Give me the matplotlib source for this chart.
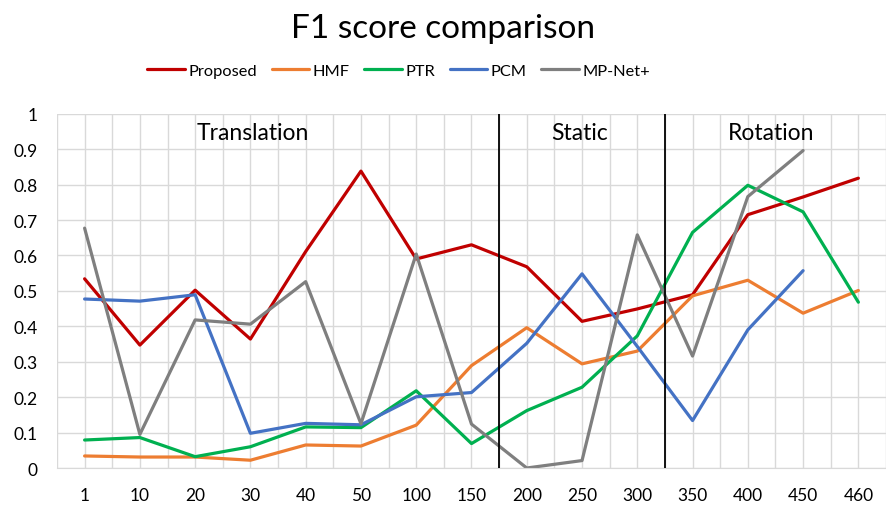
import numpy as np
import matplotlib.pyplot as plt

plt.rcParams['font.family'] = ['Lato', 'DejaVu Sans']

categories = ['1', '10', '20', '30', '40', '50', '100', '150', '200', '250',
              '300', '350', '400', '450', '460']

proposed = [0.534, 0.347, 0.502, 0.364, 0.611, 0.838, 0.590, 0.630, 0.568, 0.414,
            0.449, 0.489, 0.715, 0.765, 0.818]
hmf = [0.034, 0.031, 0.031, 0.022, 0.065, 0.062, 0.121, 0.289, 0.396, 0.294,
       0.330, 0.486, 0.530, 0.437, 0.501]
ptr = [0.079, 0.086, 0.032, 0.060, 0.116, 0.114, 0.218, 0.069, 0.162, 0.228,
       0.373, 0.665, 0.798, 0.723, 0.468]
pcm = [0.477, 0.471, 0.489, 0.098, 0.126, 0.122, 0.201, 0.213, 0.352, 0.548,
       0.343, 0.134, 0.390, 0.557, np.nan]
mpnet = [0.677, 0.095, 0.418, 0.406, 0.526, 0.125, 0.604, 0.124, 0.0, 0.021,
         0.658, 0.316, 0.766, 0.896, np.nan]

series = [('Proposed', proposed, '#C00000'),
          ('HMF', hmf, '#ED7D31'),
          ('PTR', ptr, '#00B050'),
          ('PCM', pcm, '#4472C4'),
          ('MP-Net+', mpnet, '#7F7F7F')]

# phase boundaries (between categories) and labels
boundaries = [7.5, 10.5]
phases = [('Translation', 3.05), ('Static', 8.96), ('Rotation', 12.43)]

fig = plt.figure(figsize=(8.86, 5.06), dpi=100)
ax = fig.add_axes([0.0643, 0.0731, 0.9357, 0.7002])

x = np.arange(len(categories))
for name, vals, col in series:
    ax.plot(x, vals, color=col, lw=2.3, label=name, solid_capstyle='round')

for b in boundaries:
    ax.axvline(b, color='black', lw=1.3, zorder=3)

for label, xp in phases:
    ax.text(xp, 0.946, label, ha='center', va='center', fontsize=16.5)

ax.set_xlim(-0.5, len(categories) - 0.5)
ax.set_ylim(0, 1)
ax.set_xticks(x)
ax.set_xticklabels(categories)
ax.set_xticks(np.arange(-0.5, len(categories), 1.0), minor=True)
ax.set_yticks(np.arange(0, 1.01, 0.1))
ax.set_yticklabels(['0'] + ['%.1f' % v for v in np.arange(0.1, 0.95, 0.1)] + ['1'])
ax.grid(True, which='both', color='#D9D9D9', lw=1)
ax.set_axisbelow(True)
ax.tick_params(which='both', length=0, labelsize=12.5)
ax.tick_params(axis='x', pad=14)
ax.tick_params(axis='y', pad=14)
for s in ['top', 'right', 'left']:
    ax.spines[s].set_visible(False)
ax.spines['bottom'].set_color('#D9D9D9')

fig.suptitle('F1 score comparison', y=0.972, fontsize=24)
fig.legend(loc='center', bbox_to_anchor=(0.45, 0.858), ncol=5, frameon=False,
           fontsize=11.8, handlelength=2.3, handletextpad=0.2, columnspacing=0.9)

fig.savefig('out.png', dpi=100)
